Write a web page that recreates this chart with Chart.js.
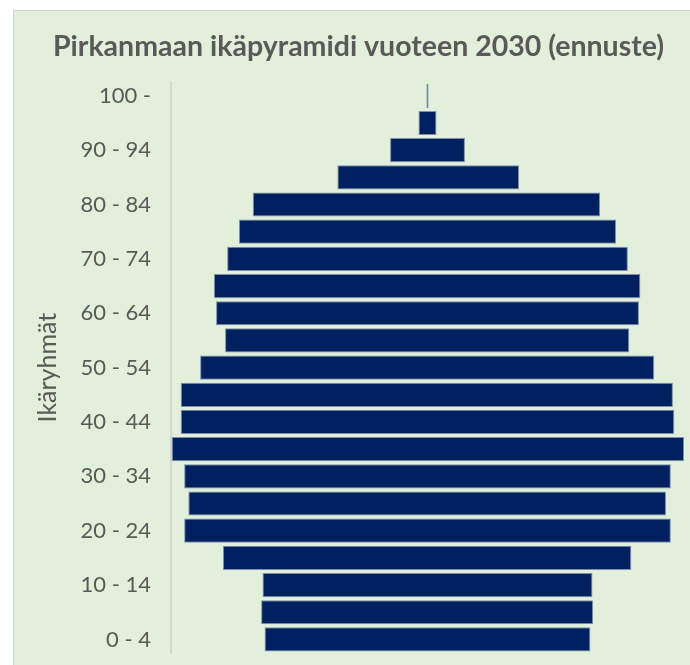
<!DOCTYPE html>
<html lang="fi">
<head>
<meta charset="UTF-8">
<title>Pirkanmaan ikäpyramidi vuoteen 2030</title>
<script src="https://cdn.jsdelivr.net/npm/chart.js@4.4.0/dist/chart.umd.min.js"></script>
<style>
  body { margin: 0; background: #fff; }
  #panel {
    position: absolute; left: 13px; top: 10px;
    width: 676px; height: 655px;
    background: #e2efda;
    border-left: 1px solid #d4d4d4; border-top: 1px solid #d4d4d4;
  }
</style>
</head>
<body>
<div id="panel"><canvas id="chart" width="676" height="655"></canvas></div>
<script>
// age groups, youngest first
const ageGroups = ['0 - 4', '5 - 9', '10 - 14', '15 - 19', '20 - 24', '25 - 29', '30 - 34',
  '35 - 39', '40 - 44', '45 - 49', '50 - 54', '55 - 59', '60 - 64', '65 - 69', '70 - 74',
  '75 - 79', '80 - 84', '85 - 89', '90 - 94', '95 - 99', '100 -'];

// population estimates (left and right halves)
const men = [11750, 12000, 11900, 14750, 17550, 17250, 17550, 18450, 17800, 17800, 16400,
  14600, 15250, 15400, 14450, 13600, 12600, 6500, 2700, 650, 80];
const women = [11750, 11950, 11900, 14700, 17550, 17200, 17550, 18500, 17800, 17700, 16350,
  14550, 15250, 15350, 14450, 13600, 12450, 6600, 2700, 650, 80];

const axisMax = 18500;
const textColor = '#595959';
const barColor = '#002060';

// one floating bar per age group: men to the left, women to the right
const pyramid = men.map((m, i) => [-m, women[i]]);

new Chart(document.getElementById('chart'), {
  type: 'bar',
  data: {
    labels: ageGroups,
    datasets: [
      { label: 'Väestö', data: pyramid, backgroundColor: barColor,
        borderColor: '#7d8fab', borderWidth: 1, borderSkipped: false }
    ]
  },
  options: {
    indexAxis: 'y',
    responsive: false,
    animation: false,
    layout: { padding: { left: 19, right: 6, top: 0, bottom: 13 } },
    datasets: { bar: { barPercentage: 0.89, categoryPercentage: 1 } },
    plugins: {
      legend: { display: false },
      tooltip: { enabled: false },
      title: {
        display: true,
        text: 'Pirkanmaan ikäpyramidi vuoteen 2030 (ennuste)',
        color: textColor,
        font: { family: 'Lato', size: 28.5, weight: 'bold', lineHeight: 1.2 },
        padding: { top: 19, bottom: 18 }
      }
    },
    scales: {
      x: { display: false, min: -axisMax, max: axisMax },
      y: {
        reverse: true,
        grid: { display: false, drawTicks: false },
        border: { display: true, color: '#d6d6d6', width: 2 },
        ticks: {
          autoSkip: false,
          padding: 20,
          color: textColor,
          font: { family: 'Lato', size: 22 },
          callback: function (val, i) { return i % 2 === 0 ? this.getLabelForValue(val) : ''; }
        },
        title: {
          display: true,
          text: 'Ikäryhmät',
          color: textColor,
          padding: 0,
          font: { family: 'Lato', size: 25, lineHeight: 1.2 }
        },
        afterFit: scale => {
          scale.width = 138;
          scale.paddingTop = 0;
          scale.paddingBottom = 0;
        }
      }
    }
  }
});
</script>
</body>
</html>
